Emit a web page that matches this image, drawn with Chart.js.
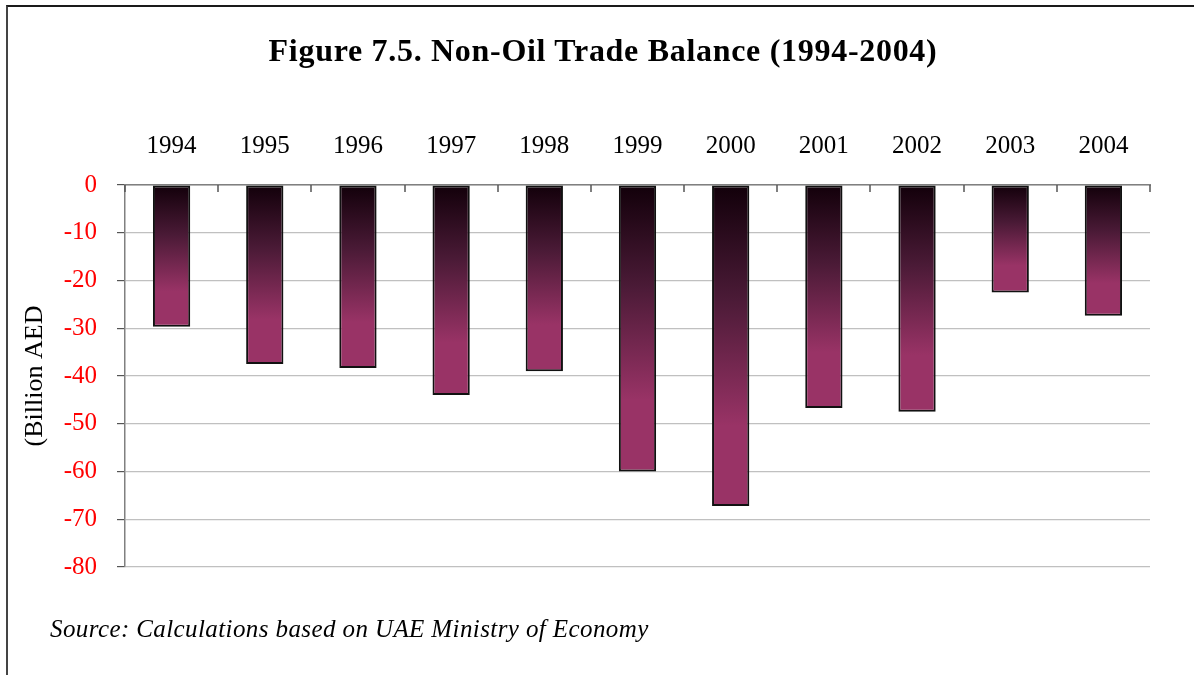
<!DOCTYPE html>
<html>
<head>
<meta charset="utf-8">
<script src="https://cdn.jsdelivr.net/npm/chart.js@4.4.1/dist/chart.umd.min.js"></script>
<style>
  html, body { margin: 0; padding: 0; background: #fff; }
  #wrap { position: relative; width: 1194px; height: 675px; overflow: hidden; background: #fff; }
  #frame { position: absolute; left: 6px; top: 5px; width: 1300px; height: 800px;
           border-top: 2px solid #1a1a1a; border-left: 2px solid #444; }
  #title { position: absolute; left: 0; width: 1206px; top: 34px; text-align: center;
           font-family: "Liberation Serif", "Times New Roman", serif; font-weight: bold;
           font-size: 32px; line-height: 32px; letter-spacing: 0.7px; color: #000; white-space: nowrap; }
  #source { position: absolute; left: 50px; top: 616px; font-family: "Liberation Serif", "Times New Roman", serif;
            font-style: italic; font-size: 25px; line-height: 25px; letter-spacing: 0.4px; color: #000; white-space: nowrap; }
  canvas { position: absolute; left: 0; top: 0; }
</style>
</head>
<body>
<div id="wrap">
  <div id="frame"></div>
  <canvas id="c" width="1194" height="675"></canvas>
  <div id="title">Figure 7.5. Non-Oil Trade Balance (1994-2004)</div>
  <div id="source">Source: Calculations based on UAE Ministry of Economy</div>
</div>
<script>
const categories = ["1994","1995","1996","1997","1998","1999","2000","2001","2002","2003","2004"];
const balance = [-29.7, -37.5, -38.3, -44.0, -39.0, -60.0, -67.2, -46.7, -47.5, -22.5, -27.4];
const yTicks = [0, -10, -20, -30, -40, -50, -60, -70, -80];
const yAxisTitle = "(Billion AED";

const CHART_LEFT = 125, CHART_TOP = 185, CHART_RIGHT = 1150, CHART_BOTTOM = 567;
const SERIF = '"Liberation Serif", "Times New Roman", serif';

function barFill(ctx) {
  const chart = ctx.chart;
  const ys = chart.scales.y;
  if (!ys || ctx.dataIndex === undefined) return '#993366';
  const v = ctx.dataset.data[ctx.dataIndex];
  const y0 = ys.getPixelForValue(0);
  const y1 = ys.getPixelForValue(v);
  if (!isFinite(y0) || !isFinite(y1) || y1 === y0) return '#993366';
  const g = chart.ctx.createLinearGradient(0, y0, 0, y1);
  g.addColorStop(0, '#12000a');
  g.addColorStop(0.35, '#4a1a36');
  g.addColorStop(0.75, '#993366');
  g.addColorStop(1, '#993366');
  return g;
}

const innerTicks = {
  id: 'innerTicks',
  afterDatasetsDraw(chart) {
    const xs = chart.scales.x, ys = chart.scales.y;
    const c = chart.ctx;
    const yb = ys.getPixelForValue(0);
    c.save();
    c.strokeStyle = '#555';
    c.lineWidth = 1.5;
    for (let i = 0; i <= categories.length; i++) {
      const x = Math.round(xs.getPixelForValue(i - 0.5));
      c.beginPath();
      c.moveTo(x, yb);
      c.lineTo(x, yb + 7);
      c.stroke();
    }
    c.restore();
  }
};

new Chart(document.getElementById('c'), {
  type: 'bar',
  data: {
    labels: categories,
    datasets: [{
      data: balance,
      backgroundColor: barFill,
      borderColor: '#111',
      borderWidth: 2,
      borderSkipped: false,
      barPercentage: 0.4,
      categoryPercentage: 1.0
    }]
  },
  options: {
    responsive: false,
    animation: false,
    devicePixelRatio: 1,
    layout: { padding: { left: 0, top: 0, right: 1194 - CHART_RIGHT, bottom: 675 - CHART_BOTTOM } },
    plugins: { legend: { display: false }, tooltip: { enabled: false }, title: { display: false } },
    scales: {
      x: {
        position: 'top',
        afterFit(s) { s.height = CHART_TOP; },
        grid: { display: true, drawOnChartArea: false, drawTicks: false },
        border: { display: true, color: '#808080', width: 1.5 },
        ticks: { color: '#000', padding: 24, font: { family: SERIF, size: 25 }, maxRotation: 0 }
      },
      y: {
        min: -80, max: 0,
        afterFit(s) { s.width = CHART_LEFT; },
        afterBuildTicks(s) { s.ticks = yTicks.map(v => ({ value: v })); },
        grid: { color: '#c0c0c0', lineWidth: 1.2, tickLength: 8, tickColor: '#555' },
        border: { display: true, color: '#808080', width: 1.5 },
        ticks: { color: '#ff0000', padding: 20, font: { family: SERIF, size: 25 } },
        title: { display: true, text: yAxisTitle, color: '#000', padding: { top: 20, bottom: 0 },
                 font: { family: SERIF, size: 26 } }
      }
    }
  },
  plugins: [innerTicks]
});
</script>
</body>
</html>
